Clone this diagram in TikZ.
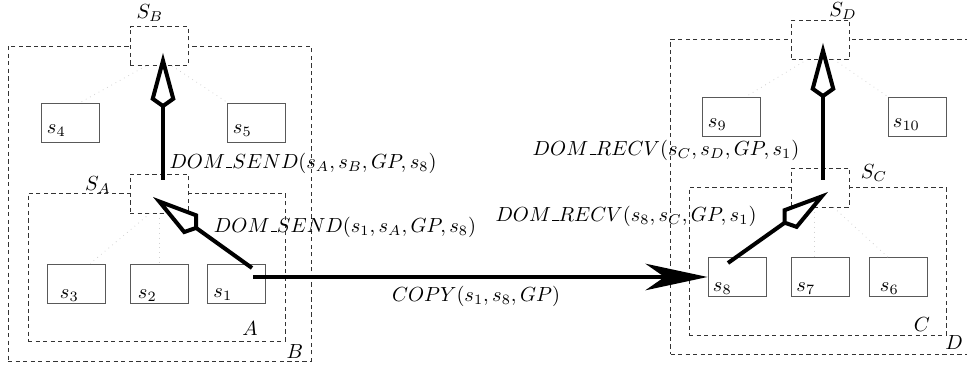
\documentclass[tikz,border=0pt]{standalone}
\usetikzlibrary{arrows.meta}
% short underscore bar used inside the message names
\newcommand{\ubar}{\mbox{\kern.06em\rule{.3em}{.45pt}}}
\begin{document}
\begin{tikzpicture}[x=0.49pt,y=-0.49pt,
  leaf/.style={draw=black!65, line width=0.45pt, fill=white, minimum width=28.4pt, minimum height=19.1pt, inner sep=0pt},
  server/.style={draw=black!80, line width=0.42pt, dash pattern=on 2.07pt off 1.63pt, fill=white, minimum width=28.4pt, minimum height=19.1pt, inner sep=0pt},
  dombox/.style={draw=black!80, line width=0.42pt, dash pattern=on 2.07pt off 1.63pt, inner sep=0pt},
  treeedge/.style={draw=black!18, line width=0.38pt, dotted},
  tag/.style={inner sep=0pt},
  leaftag/.style={inner sep=0pt, anchor=base west},
  msg/.style={line width=1.96pt, -{Kite[open, fill=white, length=27.2pt, width=12.3pt, inset=4.36pt]}},
  copyarrow/.style={line width=1.96pt, -{Stealth[length=30.4pt, width=13pt, inset=9.3pt]}}
]
\path[use as bounding box, clip] (0,0) rectangle (967,370);

% domain boxes (left tree)
\node[dombox, minimum width=148.5pt, minimum height=154.35pt] (B) at (159.5,203.5) {};
\node[dombox, minimum width=125.9pt, minimum height=72.5pt] (A) at (156.5,267) {};
% domain boxes (right tree, outer box runs past the right edge)
\node[dombox, minimum width=151.4pt, minimum height=154.35pt] (D) at (825,196.5) {};
\node[dombox, minimum width=125.9pt, minimum height=72.5pt] (C) at (817.5,261) {};

% servers
\node[server] (SB) at (159,46) {};
\node[server] (SA) at (159,193.5) {};
\node[server] (SD) at (820.5,39.5) {};
\node[server] (SC) at (820.5,187.5) {};

% leaves
\node[leaf] (s4) at (70,122.5) {};
\node[leaf] (s5) at (256,122.5) {};
\node[leaf] (s3) at (76,283.5) {};
\node[leaf] (s2) at (159,283.5) {};
\node[leaf] (s1) at (236.5,283.5) {};
\node[leaf] (s9) at (731,117) {};
\node[leaf] (s10) at (917,117) {};
\node[leaf] (s8) at (737,277) {};
\node[leaf] (s7) at (820.5,277) {};
\node[leaf] (s6) at (898,277) {};

% faint tree edges
\draw[treeedge] ([xshift=8]SB.south west) -- ([xshift=5]s4.north);
\draw[treeedge] ([xshift=-8]SB.south east) -- ([xshift=-14]s5.north);
\draw[treeedge] ([xshift=10]SA.south west) -- ([xshift=7]s3.north);
\draw[treeedge] (SA.south) -- (s2.north);
\draw[treeedge] ([xshift=8]SD.south west) -- ([xshift=7]s9.north);
\draw[treeedge] ([xshift=-8]SD.south east) -- ([xshift=-14]s10.north);
\draw[treeedge] ([xshift=-3]SC.south) -- ([xshift=-3]s7.north);
\draw[treeedge] ([xshift=-8]SC.south east) -- ([xshift=-5]s6.north);

% leaf names
\node[leaftag] at ([shift={(6,-9)}]s4.south west) {$s_4$};
\node[leaftag] at ([shift={(6,-9)}]s5.south west) {$s_5$};
\node[leaftag] at ([shift={(13,-5)}]s3.south west) {$s_3$};
\node[leaftag] at ([shift={(8,-5)}]s2.south west) {$s_2$};
\node[leaftag] at ([shift={(6,-6)}]s1.south west) {$s_1$};
\node[leaftag] at ([shift={(6,-9)}]s9.south west) {$s_9$};
\node[leaftag] at ([shift={(5,-9)}]s10.south west) {$s_{10}$};
\node[leaftag] at ([shift={(5,-5)}]s8.south west) {$s_8$};
\node[leaftag] at ([shift={(5,-5)}]s7.south west) {$s_7$};
\node[leaftag] at ([shift={(11,-5)}]s6.south west) {$s_6$};

% server and domain names
\node[tag] (lSB) at (150,13) {$S_B$};
\node[tag] (lSA) at (98,185) {$S_A$};
\node[tag] (lSD) at (843,11) {$S_D$};
\node[tag] (lSC) at (874,173) {$S_C$};
\node[tag] (lB) at (295,352) {$B$};
\node[tag] (lA) at (250,329) {$A$};
\node[tag] (lD) at (954,343) {$D$};
\node[tag] (lC) at (922,325) {$C$};

% message end points
\coordinate (pA) at (163,180);
\coordinate (pB) at (163,53);
\coordinate (p1) at (252,268);
\coordinate (p1r) at (253,277);
\coordinate (pAin) at (153,197);
\coordinate (pC) at (823,180);
\coordinate (pD) at (823,43);
\coordinate (p8) at (728,263);
\coordinate (pCin) at (828,192);

% messages
\draw[msg] (pA) -- (pB);
\draw[msg] (p1) -- (pAin);
\draw[msg] (pC) -- (pD);
\draw[msg] (p8) -- (pCin);
\draw[copyarrow] (p1r) -- (s8.west);

% message labels
\node[tag] (m1) at (303,163) {$DOM\ubar SEND(s_A,s_B,GP,s_8)$};
\node[tag] (m2) at (345,227) {$DOM\ubar SEND(s_1,s_A,GP,s_8)$};
\node[tag] (m3) at (666,150) {$DOM\ubar RECV(s_C,s_D,GP,s_1)$};
\node[tag] (m4) at (626,216) {$DOM\ubar RECV(s_8,s_C,GP,s_1)$};
\node[tag] (m5) at (476,296) {$COPY(s_1,s_8,GP)$};
\end{tikzpicture}
\end{document}
